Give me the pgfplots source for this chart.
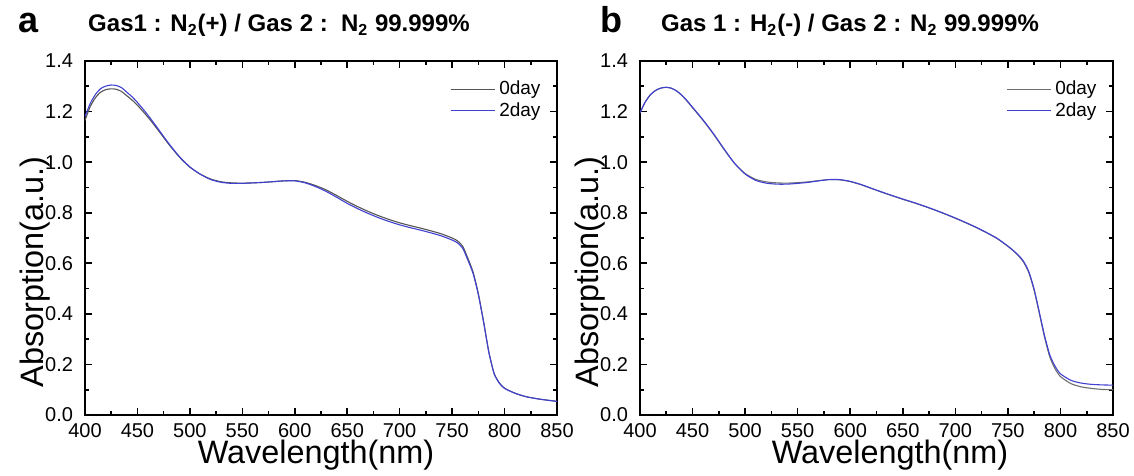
\documentclass[border=0pt]{standalone}
\usepackage{fontspec}
\setmainfont{Liberation Sans}
\usepackage{pgfplots}
\usepackage{pgfplotstable}
\pgfplotsset{compat=1.18}
\definecolor{dayzero}{rgb}{0.33,0.33,0.33}
\definecolor{daytwo}{rgb}{0.25,0.25,0.82}

\pgfplotstableread{
lam A
400 1.165
405 1.220
410 1.255
415 1.277
420 1.287
425 1.290
430 1.288
435 1.279
440 1.262
445 1.245
450 1.225
460 1.178
470 1.125
480 1.070
490 1.020
500 0.980
510 0.952
520 0.933
530 0.922
540 0.918
550 0.917
560 0.918
570 0.920
580 0.923
590 0.926
600 0.927
610 0.920
620 0.907
630 0.890
640 0.868
650 0.845
660 0.824
670 0.805
680 0.788
690 0.773
700 0.760
710 0.749
720 0.739
730 0.728
740 0.716
750 0.700
755 0.689
760 0.668
765 0.620
770 0.565
775 0.480
780 0.370
785 0.250
790 0.165
795 0.127
800 0.106
810 0.086
820 0.073
830 0.065
840 0.059
850 0.054
}\aZero

\pgfplotstableread{
lam A
400 1.180
405 1.232
410 1.268
415 1.291
420 1.301
425 1.305
430 1.303
435 1.294
440 1.276
445 1.258
450 1.236
460 1.186
470 1.130
480 1.073
490 1.022
500 0.981
510 0.952
520 0.931
530 0.920
540 0.916
550 0.916
560 0.918
570 0.920
580 0.923
590 0.926
600 0.926
610 0.918
620 0.903
630 0.884
640 0.861
650 0.837
660 0.816
670 0.797
680 0.780
690 0.765
700 0.752
710 0.741
720 0.731
730 0.720
740 0.708
750 0.692
755 0.681
760 0.660
765 0.613
770 0.559
775 0.476
780 0.367
785 0.248
790 0.164
795 0.126
800 0.105
810 0.086
820 0.073
830 0.065
840 0.059
850 0.054
}\aTwo

\pgfplotstableread{
lam A
400 1.195
405 1.238
410 1.267
415 1.284
420 1.293
425 1.296
430 1.292
435 1.281
440 1.263
445 1.240
450 1.215
460 1.165
470 1.110
480 1.050
490 0.995
500 0.955
510 0.932
520 0.922
530 0.918
540 0.917
550 0.919
560 0.922
570 0.927
580 0.931
590 0.930
600 0.923
610 0.911
620 0.896
630 0.881
640 0.867
650 0.853
660 0.840
670 0.826
680 0.811
690 0.795
700 0.778
710 0.760
720 0.741
730 0.720
740 0.697
750 0.667
755 0.650
760 0.630
765 0.604
770 0.562
775 0.492
780 0.400
785 0.305
790 0.228
795 0.182
800 0.152
810 0.124
820 0.111
830 0.105
840 0.101
850 0.100
}\bZero

\pgfplotstableread{
lam A
400 1.195
405 1.238
410 1.267
415 1.284
420 1.293
425 1.296
430 1.292
435 1.281
440 1.264
445 1.242
450 1.217
460 1.167
470 1.112
480 1.052
490 0.995
500 0.953
510 0.928
520 0.917
530 0.913
540 0.913
550 0.916
560 0.920
570 0.926
580 0.931
590 0.931
600 0.924
610 0.912
620 0.897
630 0.882
640 0.868
650 0.854
660 0.841
670 0.827
680 0.812
690 0.796
700 0.779
710 0.761
720 0.742
730 0.721
740 0.698
750 0.668
755 0.651
760 0.632
765 0.607
770 0.566
775 0.497
780 0.405
785 0.312
790 0.236
795 0.192
800 0.163
810 0.137
820 0.126
830 0.121
840 0.119
850 0.118
}\bTwo

\pgfplotsset{
  panel/.style={
    scale only axis,
    width=236pt, height=177pt,
    xmin=400, xmax=850, ymin=0, ymax=1.4,
    xtick={400,450,...,850},
    ytick={0,0.2,...,1.41},
    minor xtick={425,475,...,825},
    minor ytick={0.1,0.3,...,1.31},
    tick align=inside,
    tick pos=both,
    major tick length=3.6pt,
    minor tick length=2pt,
    every tick/.style={black, line width=0.8pt},
    axis line style={line width=1pt},
    /pgf/number format/assume math mode=true,
    /pgf/number format/fixed,
    /pgf/number format/precision=1,
    /pgf/number format/fixed zerofill,
    xticklabel style={/pgf/number format/precision=0,/pgf/number format/fixed zerofill=false},
    ticklabel style={font=\fontsize{10}{12}\selectfont},
    yticklabel style={xshift=-2.5pt},
    xticklabel style={yshift=-0.5pt},
    legend style={draw=none, fill=none, font=\fontsize{9.5}{11}\selectfont,
      at={(0.987,0.968)}, anchor=north east, row sep=-1.5pt,
      /tikz/every even column/.append style={column sep=1pt}},
    legend cell align=left,
    legend image code/.code={\draw[#1] (0pt,0pt) -- (22pt,0pt);},
    every axis plot/.append style={line width=0.55pt, smooth, tension=0.4},
  }
}

\begin{document}
\begin{tikzpicture}
\path[use as bounding box] (0,0) rectangle (567pt,238pt);

\begin{axis}[panel, at={(42.5pt,30.5pt)}, anchor=south west]
\addplot[dayzero] table[x=lam,y=A]{\aZero};
\addplot[daytwo] table[x=lam,y=A]{\aTwo};
\legend{0day,2day}
\end{axis}

\begin{axis}[panel, at={(320pt,30.5pt)}, anchor=south west, width=236.5pt]
\addplot[dayzero!85] table[x=lam,y=A]{\bZero};
\addplot[daytwo] table[x=lam,y=A]{\bTwo};
\legend{0day,2day}
\end{axis}

% panel letters
\node[anchor=base, font=\fontsize{18}{20}\selectfont\bfseries] at (14.5pt,221.5pt) {a};
\node[anchor=base, font=\fontsize{18}{20}\selectfont\bfseries] at (305.5pt,221.5pt) {b};
% titles
\node[anchor=base, font=\fontsize{12}{14}\selectfont\bfseries] at (139.5pt,222pt)
  {Gas1 : N\textsubscript{2}(+) / Gas 2 :\ \ N\textsubscript{2} 99.999\%};
\node[anchor=base, font=\fontsize{12}{14}\selectfont\bfseries] at (425pt,222pt)
  {Gas 1 : H\textsubscript{2}(-) / Gas 2 : N\textsubscript{2} 99.999\%};
% axis labels
\node[anchor=base, font=\fontsize{16.2}{18}\selectfont] at (158pt,6pt) {Wavelength(nm)};
\node[anchor=base, font=\fontsize{16.2}{18}\selectfont] at (445pt,6pt) {Wavelength(nm)};
\node[rotate=90, font=\fontsize{16.2}{18}\selectfont] at (17.5pt,102pt) {Absorption(a.u.)};
\node[rotate=90, font=\fontsize{16.2}{18}\selectfont] at (295pt,102pt) {Absorption(a.u.)};
\end{tikzpicture}
\end{document}
